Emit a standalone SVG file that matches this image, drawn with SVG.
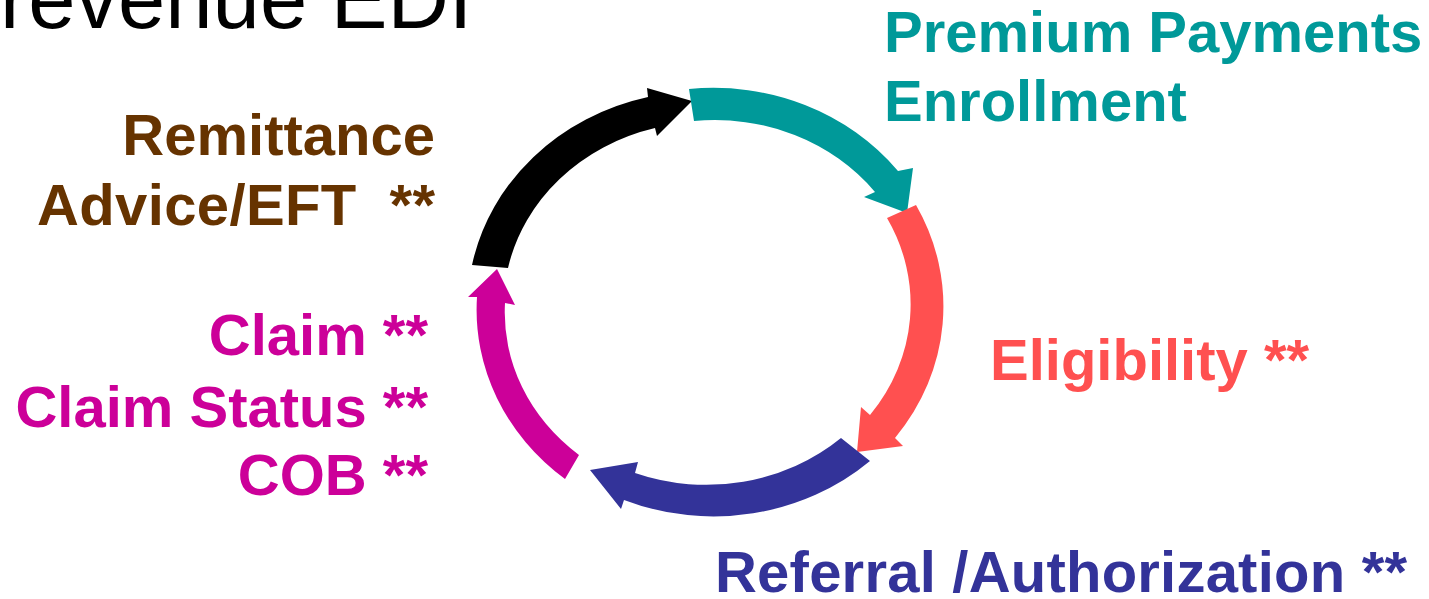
<svg xmlns="http://www.w3.org/2000/svg" width="1429" height="599" viewBox="0 0 1429 599">
<style>
.lbl{font-family:"Liberation Sans",Arial,sans-serif;font-weight:bold;font-size:58px}
.title{font-family:"Liberation Sans",Arial,sans-serif;font-size:85px;fill:#000}
.teal{fill:#009999}.red{fill:#FF5050}.blue{fill:#333399}.mag{fill:#CC0099}.brown{fill:#663300}.blk{fill:#000}
</style>
<rect width="1429" height="599" fill="#fff"/>
<text class="title" x="0" y="28">revenue EDI</text>
<g id="connectors">
<path id="arrow-black" class="blk" d="M472,265 A234,216 0 0 1 648,97 L647,88 L692,101 L657,136 L655,128 A202,184 0 0 0 508,268 Z"/>
<path id="arrow-teal" class="teal" d="M689,89 A234,216 0 0 1 898,171 L913,168 L907,213 L864,197 L875,192 A202,184 0 0 0 694,121 Z"/>
<path id="arrow-red" class="red" d="M916,205 A234,216 0 0 1 895,438 L903,446 L857,452 L861,407 L870,415 A202,184 0 0 0 887,218 Z"/>
<path id="arrow-blue" class="blue" d="M870,461 A234,216 0 0 1 624,500 L621,509 L590,470 L638,462 L635,473 A202,184 0 0 0 841,438 Z"/>
<path id="arrow-magenta" class="mag" d="M565,479 A234,216 0 0 1 477,297 L468,297 L497,269 L515,305 L505,303 A202,184 0 0 0 579,455 Z"/>
</g>
<g id="node-premium">
<text class="lbl teal" x="884" y="52">Premium Payments</text>
<text class="lbl teal" x="884" y="121">Enrollment</text>
</g>
<g id="node-eligibility">
<text class="lbl red" x="990" y="380">Eligibility **</text>
</g>
<g id="node-referral">
<text class="lbl blue" x="715" y="592" textLength="692" lengthAdjust="spacing">Referral /Authorization **</text>
</g>
<g id="node-claim">
<text class="lbl mag" x="428" y="355" text-anchor="end">Claim **</text>
<text class="lbl mag" x="428" y="427" text-anchor="end">Claim Status **</text>
<text class="lbl mag" x="428" y="495" text-anchor="end">COB **</text>
</g>
<g id="node-remittance">
<text class="lbl brown" x="435" y="155" text-anchor="end">Remittance</text>
<text class="lbl brown" x="37" y="225" textLength="398" lengthAdjust="spacing" xml:space="preserve">Advice/EFT  **</text>
</g>
</svg>
